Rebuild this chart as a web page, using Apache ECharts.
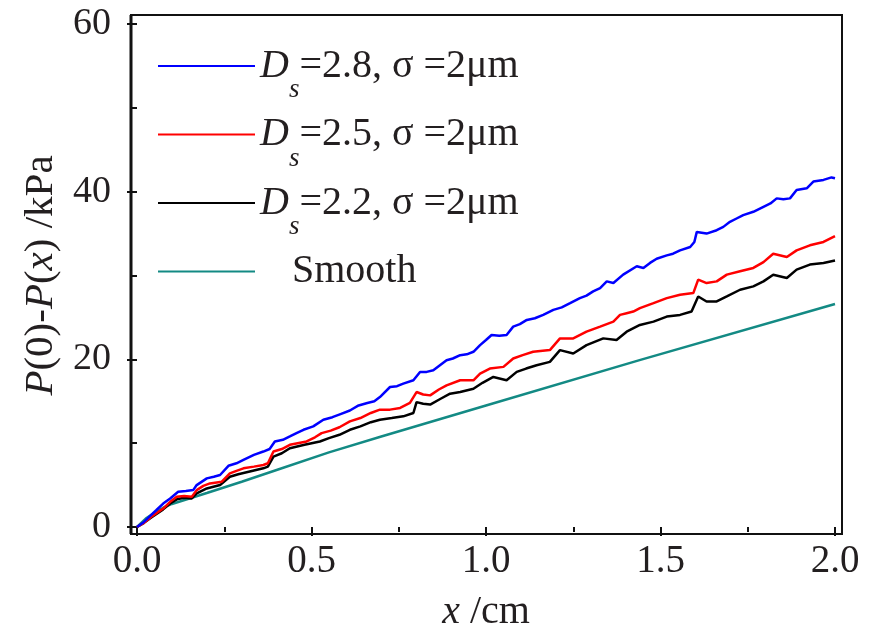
<!DOCTYPE html>
<html>
<head>
<meta charset="utf-8">
<style>
  html, body { margin: 0; padding: 0; background: #ffffff; }
  #chart { width: 877px; height: 633px; }
</style>
<script src="https://cdn.jsdelivr.net/npm/echarts@6/dist/echarts.min.js"></script>
</head>
<body>
<div id="chart"></div>
<script>
// Pressure drop P(0)-P(x) along the channel for rough walls of different fractal dimension
const ds28 = [[0,0],[0.02,0.6],[0.037,1.3],[0.055,2.0],[0.075,2.8],[0.095,3.4],[0.118,4.2],[0.14,4.3],[0.161,4.4],[0.171,5.0],[0.2,5.8],[0.22,6.0],[0.238,6.2],[0.262,7.3],[0.285,7.6],[0.305,8.0],[0.335,8.6],[0.362,9.0],[0.38,9.3],[0.395,10.2],[0.418,10.4],[0.438,10.8],[0.457,11.2],[0.477,11.6],[0.505,12.0],[0.534,12.8],[0.56,13.1],[0.585,13.5],[0.61,13.9],[0.635,14.5],[0.66,14.8],[0.68,15.0],[0.696,15.5],[0.725,16.7],[0.745,16.8],[0.763,17.1],[0.792,17.5],[0.811,18.5],[0.83,18.5],[0.849,18.7],[0.868,19.3],[0.887,19.9],[0.905,20.1],[0.926,20.5],[0.945,20.6],[0.964,20.9],[0.983,21.7],[1.0,22.3],[1.016,22.9],[1.038,22.8],[1.059,22.9],[1.078,23.9],[1.097,24.2],[1.117,24.7],[1.14,24.9],[1.164,25.3],[1.193,25.9],[1.217,26.2],[1.241,26.7],[1.269,27.3],[1.288,27.6],[1.307,28.1],[1.327,28.5],[1.346,29.3],[1.365,29.1],[1.393,30.1],[1.432,31.1],[1.451,30.9],[1.47,31.5],[1.489,32.0],[1.518,32.4],[1.536,32.6],[1.556,33.0],[1.585,33.4],[1.597,34.0],[1.604,35.2],[1.632,35.0],[1.661,35.4],[1.68,35.8],[1.699,36.4],[1.718,36.8],[1.737,37.2],[1.766,37.6],[1.795,38.2],[1.815,38.6],[1.833,39.2],[1.852,39.1],[1.871,39.2],[1.89,40.2],[1.919,40.4],[1.938,41.2],[1.967,41.4],[1.99,41.7],[2.0,41.6]];

const ds25 = [[0,0],[0.02,0.5],[0.04,1.2],[0.075,2.2],[0.095,3.0],[0.114,3.6],[0.135,3.7],[0.157,3.6],[0.171,4.4],[0.19,4.9],[0.209,5.2],[0.243,5.4],[0.266,6.4],[0.285,6.7],[0.305,7.0],[0.335,7.2],[0.362,7.4],[0.375,7.6],[0.391,9.0],[0.415,9.3],[0.438,9.8],[0.486,10.2],[0.51,10.7],[0.529,11.2],[0.555,11.5],[0.58,11.9],[0.61,12.6],[0.64,13.0],[0.67,13.6],[0.696,14.0],[0.725,14.0],[0.754,14.2],[0.782,14.8],[0.801,16.1],[0.82,15.8],[0.84,15.7],[0.865,16.4],[0.887,16.9],[0.926,17.5],[0.964,17.5],[0.983,18.3],[1.011,18.9],[1.05,19.1],[1.078,20.1],[1.105,20.5],[1.135,20.9],[1.183,21.1],[1.212,22.5],[1.25,22.5],[1.288,23.3],[1.327,23.9],[1.365,24.5],[1.384,25.3],[1.403,25.5],[1.422,25.7],[1.441,26.1],[1.48,26.7],[1.518,27.3],[1.556,27.7],[1.594,27.9],[1.608,29.5],[1.632,29.1],[1.661,29.3],[1.69,30.1],[1.728,30.5],[1.766,30.9],[1.795,31.6],[1.823,32.6],[1.862,32.2],[1.89,33.0],[1.928,33.6],[1.967,34.0],[2.0,34.7]];

const ds22 = [[0,0],[0.02,0.5],[0.04,1.1],[0.075,2.1],[0.095,2.8],[0.114,3.3],[0.135,3.5],[0.157,3.4],[0.171,4.0],[0.2,4.6],[0.238,5.0],[0.266,6.0],[0.29,6.3],[0.32,6.6],[0.362,7.0],[0.375,7.2],[0.391,8.4],[0.415,8.8],[0.438,9.4],[0.48,9.8],[0.524,10.2],[0.55,10.6],[0.58,11.0],[0.61,11.6],[0.64,12.0],[0.67,12.5],[0.696,12.8],[0.73,13.0],[0.763,13.2],[0.792,13.6],[0.801,14.9],[0.82,14.7],[0.84,14.6],[0.87,15.3],[0.897,15.9],[0.926,16.1],[0.964,16.5],[0.99,17.2],[1.021,17.9],[1.059,17.5],[1.088,18.5],[1.115,18.9],[1.145,19.3],[1.183,19.7],[1.212,21.1],[1.25,20.7],[1.288,21.7],[1.336,22.5],[1.374,22.3],[1.403,23.3],[1.441,24.1],[1.48,24.5],[1.518,25.1],[1.556,25.3],[1.589,25.7],[1.608,27.5],[1.632,26.9],[1.661,26.9],[1.69,27.5],[1.728,28.3],[1.766,28.7],[1.795,29.3],[1.823,30.1],[1.862,29.7],[1.89,30.7],[1.928,31.3],[1.967,31.5],[2.0,31.8]];

const smoothWall = [[0,0],[0.025,1.0],[0.05,1.7],[0.075,2.3],[0.1,2.75],[0.15,3.4],[0.2,4.05],[0.3,5.4],[0.4,6.8],[0.55,8.9],[0.7,10.8],[1.0,14.5],[1.44,19.9],[2.0,26.6]];

// legend entries, top to bottom
const seriesNames = ['D_s=2.8, σ =2μm', 'D_s=2.5, σ =2μm', 'D_s=2.2, σ =2μm', 'Smooth'];
const xTicks = { min: 0, max: 2, step: 0.5 };
const yTicks = { min: 0, max: 60, step: 20 };

const FONT = 'Liberation Serif';
const INK = '#231f20';

const chart = echarts.init(document.getElementById('chart'), null, { renderer: 'canvas' });

function legendLabel(name) {
  if (name === 'Smooth') return '{sm|Smooth}';
  const rest = name.slice(3);
  return '{D|D}{s|s}{t|' + rest + '}';
}

const option = {
  backgroundColor: '#ffffff',
  animation: false,
  grid: { left: 137, right: 42, top: 24, bottom: 106, containLabel: false, outerBoundsMode: 'none' },
  graphic: [{
    type: 'rect',
    shape: { x: 131, y: 15, width: 711, height: 519 },
    style: { fill: 'none', stroke: '#111111', lineWidth: 2 },
    z: 10
  }, {
    type: 'line',
    shape: { x1: 131, y1: 15, x2: 131, y2: 534 },
    style: { stroke: '#111111', lineWidth: 3 },
    z: 10
  }],
  legend: {
    show: true,
    orient: 'vertical',
    left: 152,
    top: 41,
    itemWidth: 97,
    itemHeight: 14,
    itemGap: 11,
    selectedMode: false,
    data: seriesNames,
    formatter: legendLabel,
    itemStyle: { opacity: 0 },
    textStyle: {
      fontFamily: FONT,
      color: INK,
      fontSize: 40,
      rich: {
        D: { fontFamily: FONT, fontStyle: 'italic', fontSize: 40, color: INK, padding: [13, 0, 13, 0] },
        s: { fontFamily: FONT, fontStyle: 'italic', fontSize: 27, color: INK, padding: [48, 0, 0, 0] },
        t: { fontFamily: FONT, fontSize: 40, color: INK, padding: [13, 0, 13, 0] },
        sm: { fontFamily: FONT, fontSize: 40, color: INK, padding: [13, 0, 13, 32] }
      }
    }
  },
  xAxis: {
    type: 'value',
    min: xTicks.min,
    max: xTicks.max,
    interval: xTicks.step,
    offset: 7,
    axisLine: { show: false },
    splitLine: { show: false },
    axisTick: { show: true, inside: false, length: 9, lineStyle: { color: '#111', width: 2 } },
    minorTick: { show: true, splitNumber: 2, length: 5, lineStyle: { color: '#111', width: 2 } },
    axisLabel: {
      fontFamily: FONT, fontSize: 39, color: INK, margin: 8,
      formatter: v => v.toFixed(1)
    },
    name: '{i|x}{n| /cm}',
    nameLocation: 'middle',
    nameGap: 58,
    nameTextStyle: {
      rich: {
        i: { fontFamily: FONT, fontStyle: 'italic', fontSize: 40, color: INK },
        n: { fontFamily: FONT, fontSize: 40, color: INK }
      }
    }
  },
  yAxis: {
    type: 'value',
    min: yTicks.min,
    max: yTicks.max,
    interval: yTicks.step,
    offset: 6,
    axisLine: { show: false },
    splitLine: { show: false },
    axisTick: { show: true, inside: false, length: 10, lineStyle: { color: '#111', width: 2 } },
    minorTick: { show: true, splitNumber: 2, length: 6, lineStyle: { color: '#111', width: 2 } },
    axisLabel: { fontFamily: FONT, fontSize: 38, color: INK, margin: 20 },
    name: '{i|P}{n|(0)-}{i|P}{n|(}{i|x}{n|) /kPa}',
    nameLocation: 'middle',
    nameGap: 68,
    nameRotate: 90,
    nameTextStyle: {
      rich: {
        i: { fontFamily: FONT, fontStyle: 'italic', fontSize: 41, color: INK },
        n: { fontFamily: FONT, fontSize: 41, color: INK }
      }
    }
  },
  series: [
    { name: seriesNames[3], type: 'line', data: smoothWall, showSymbol: false, symbol: 'none', clip: false,
      lineStyle: { color: '#138a84', width: 2.5 }, itemStyle: { color: '#138a84' }, z: 2 },
    { name: seriesNames[2], type: 'line', data: ds22, showSymbol: false, symbol: 'none', clip: false,
      lineStyle: { color: '#000000', width: 2.5 }, itemStyle: { color: '#000000' }, z: 3 },
    { name: seriesNames[1], type: 'line', data: ds25, showSymbol: false, symbol: 'none', clip: false,
      lineStyle: { color: '#ff0000', width: 2.5 }, itemStyle: { color: '#ff0000' }, z: 4 },
    { name: seriesNames[0], type: 'line', data: ds28, showSymbol: false, symbol: 'none', clip: false,
      lineStyle: { color: '#0000ff', width: 2.5 }, itemStyle: { color: '#0000ff' }, z: 5 }
  ]
};

chart.setOption(option);
</script>
</body>
</html>
